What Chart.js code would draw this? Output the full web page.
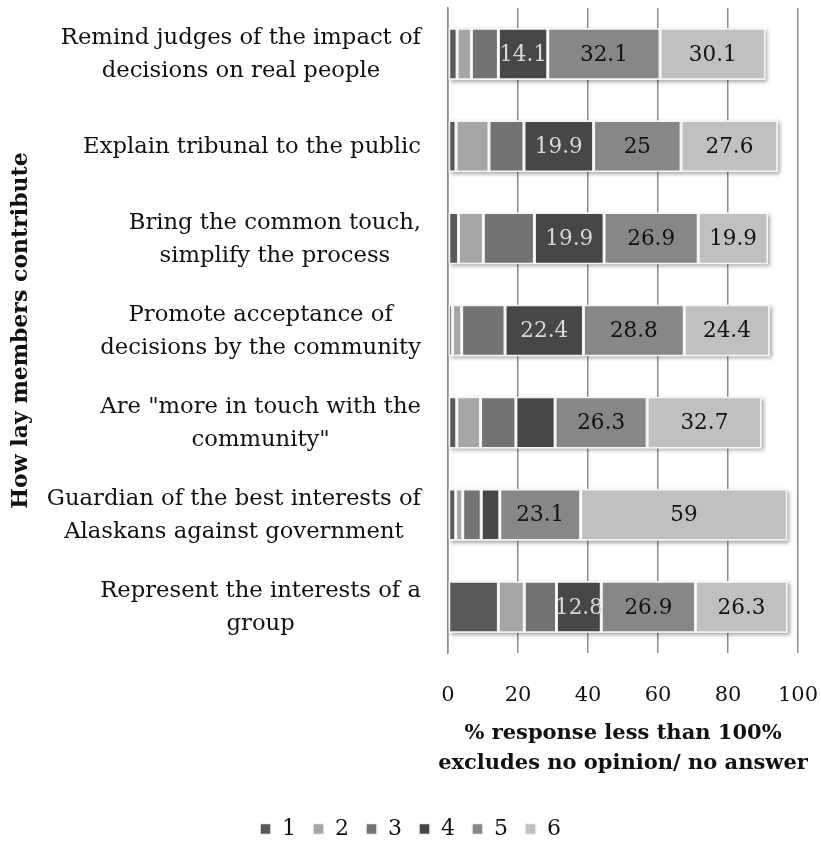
<!DOCTYPE html>
<html>
<head>
<meta charset="utf-8">
<script src="https://cdn.jsdelivr.net/npm/chart.js@4"></script>
<style>
  html, body { margin: 0; padding: 0; background: #fff; }
  #wrap { width: 821px; height: 845px; }
</style>
</head>
<body>
<div id="wrap"><canvas id="ctx" width="821" height="845"></canvas></div>
<script>
const categories = [
  ['Remind judges of the impact of', 'decisions on real people'],
  ['Explain tribunal to the public'],
  ['Bring the common touch,', 'simplify the process'],
  ['Promote acceptance of', 'decisions by the community'],
  ['Are "more in touch with the', 'community"'],
  ['Guardian of the best interests of', 'Alaskans against government'],
  ['Represent the interests of a', 'group']
];
const seriesNames = ['1', '2', '3', '4', '5', '6'];
const s1 = [2.6, 2.3, 3.0, 1.3, 2.5, 2.2, 14.4];
const s2 = [4.1, 9.4, 7.1, 2.6, 6.8, 2.0, 7.4];
const s3 = [7.7, 10.0, 14.6, 12.4, 10.1, 5.3, 9.2];
const s4 = [14.1, 19.9, 19.9, 22.4, 11.2, 5.3, 12.8];
const s5 = [32.1, 25, 26.9, 28.8, 26.3, 23.1, 26.9];
const s6 = [30.1, 27.6, 19.9, 24.4, 32.7, 59, 26.3];
const xTicks = [0, 20, 40, 60, 80, 100];
const xTitle = ['% response less than 100%', 'excludes no opinion/ no answer'];
const yTitle = 'How lay members contribute';

const colors = ['#595959', '#a6a6a6', '#737373', '#474747', '#878787', '#c0c0c0'];
const labelColors = ['#111', '#111', '#111', '#d9d9d9', '#111', '#111'];
const serif = 'DejaVu Serif';

const allSeries = [s1, s2, s3, s4, s5, s6];

// category labels: block right aligned, lines centred inside the block
// plus the two-line x title (chart.js squeezes it to the axis width otherwise)
const textLayer = {
  id: 'textLayer',
  afterDraw(chart) {
    const c = chart.ctx;
    const y = chart.scales.y;
    const area = chart.chartArea;
    c.save();
    c.font = '22.7px "' + serif + '"';
    c.fillStyle = '#111';
    c.textAlign = 'center';
    c.textBaseline = 'middle';
    const right = area.left - 27;
    const lh = 33;
    categories.forEach((lines, i) => {
      const w = Math.max(...lines.map(l => c.measureText(l).width));
      const cx = right - w / 2;
      const cy = y.getPixelForValue(i) + 1;
      lines.forEach((l, k) => {
        c.fillText(l, cx, cy + (k - (lines.length - 1) / 2) * lh);
      });
    });

    c.font = 'bold 21px "' + serif + '"';
    const mid = (area.left + area.right) / 2;
    xTitle.forEach((t, k) => {
      c.fillText(t, mid, area.bottom + 81 + k * 30);
    });
    c.restore();
  }
};

// soft shadow behind each stacked bar
const barShadow = {
  id: 'barShadow',
  beforeDatasetsDraw(chart) {
    const c = chart.ctx;
    const first = chart.getDatasetMeta(0).data;
    const last = chart.getDatasetMeta(allSeries.length - 1).data;
    c.save();
    c.shadowColor = 'rgba(0,0,0,0.35)';
    c.shadowBlur = 4;
    c.shadowOffsetX = 2;
    c.shadowOffsetY = 2;
    c.fillStyle = '#fff';
    first.forEach((bar, i) => {
      const x0 = bar.base;
      const x1 = last[i].x;
      const h = bar.height;
      c.fillRect(x0, bar.y - h / 2, x1 - x0, h);
    });
    c.restore();
  }
};

// value labels inside the bigger segments of series 4-6
const valueLabels = {
  id: 'valueLabels',
  afterDatasetsDraw(chart) {
    const c = chart.ctx;
    c.save();
    c.font = '21.5px "' + serif + '"';
    c.textAlign = 'center';
    c.textBaseline = 'middle';
    for (let d = 3; d < allSeries.length; d++) {
      const meta = chart.getDatasetMeta(d);
      meta.data.forEach((bar, i) => {
        const v = allSeries[d][i];
        if (v < 12) return;
        c.fillStyle = labelColors[d];
        c.fillText(String(v), (bar.x + bar.base) / 2, bar.y + 1);
      });
    }
    c.restore();
  }
};

const chart = new Chart(document.getElementById('ctx'), {
  type: 'bar',
  data: {
    labels: categories,
    datasets: allSeries.map((s, i) => ({
      label: seriesNames[i],
      data: s,
      backgroundColor: colors[i],
      borderColor: '#f4f4f4',
      borderWidth: 1.5,
      borderSkipped: false,
      categoryPercentage: 1,
      barPercentage: 0.56
    }))
  },
  options: {
    indexAxis: 'y',
    responsive: false,
    animation: false,
    layout: { padding: { top: 8, right: 0, bottom: -5, left: 0 } },
    plugins: {
      legend: {
        position: 'bottom',
        labels: {
          boxWidth: 11,
          boxHeight: 11,
          padding: 17,
          color: '#111',
          font: { family: serif, size: 22 }
        }
      },
      tooltip: { enabled: false }
    },
    scales: {
      x: {
        stacked: true,
        min: 0,
        max: 100,
        afterBuildTicks: (scale) => { scale.ticks = xTicks.map(v => ({ value: v })); },
        afterFit: (scale) => {
          scale.height = 148;
          scale.paddingLeft = 0;
          scale.paddingRight = 23;
        },
        grid: { color: '#8c8c8c', lineWidth: 1.5, drawTicks: false },
        border: { display: false },
        ticks: {
          padding: 30,
          color: '#111',
          font: { family: serif, size: 21 }
        }
      },
      y: {
        stacked: true,
        grid: { display: false },
        border: { display: true, color: '#8c8c8c', width: 1.5 },
        ticks: { display: false },
        afterFit: (scale) => { scale.width = 448; },
        title: {
          display: true,
          text: yTitle,
          color: '#111',
          font: { family: serif, size: 22, weight: 'bold' },
          padding: { top: 8, bottom: 0 }
        }
      }
    }
  },
  plugins: [barShadow, valueLabels, textLayer]
});
</script>
</body>
</html>
